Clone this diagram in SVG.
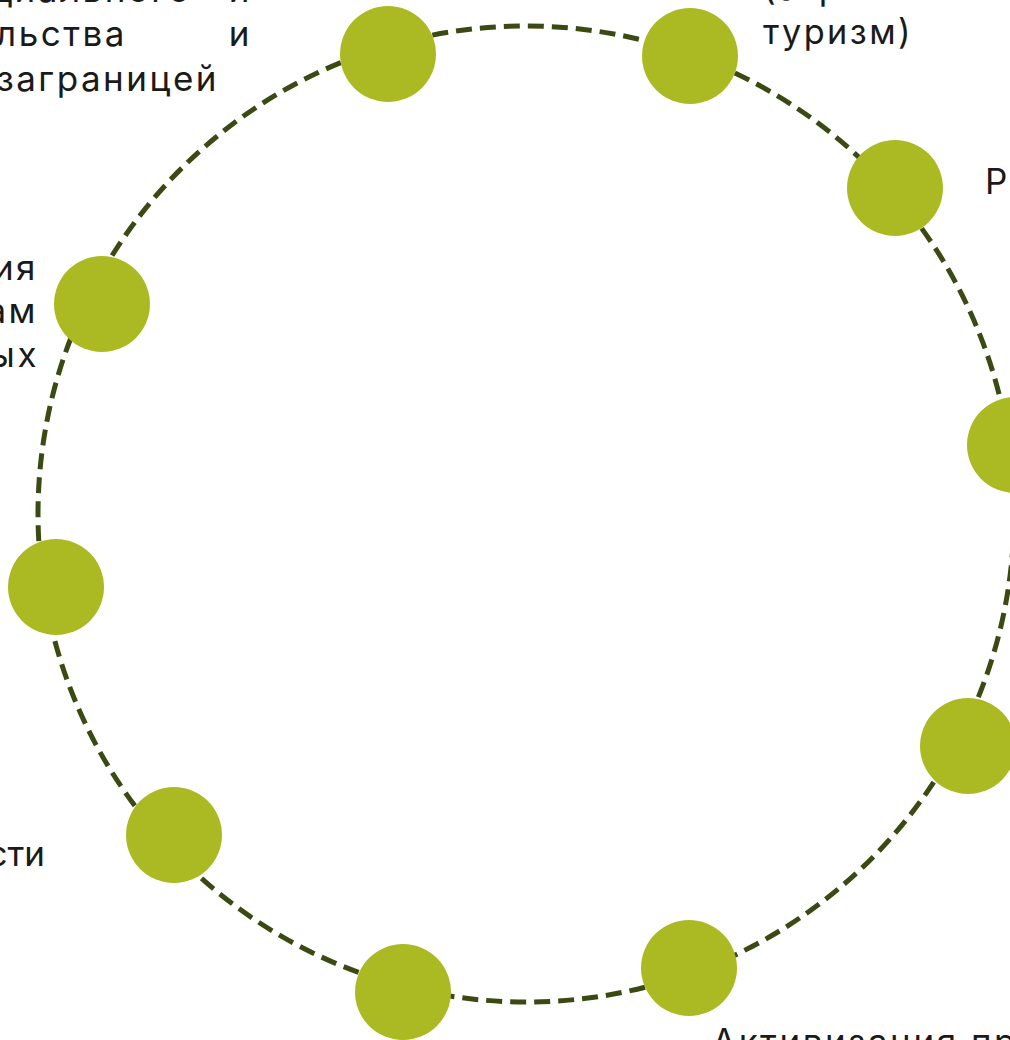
<svg xmlns="http://www.w3.org/2000/svg" width="1010" height="1040" viewBox="0 0 1010 1040">
  <style>
    .dot { fill: #ABBA22; }
    .link { fill: none; stroke: #3B4A12; stroke-width: 5; stroke-dasharray: 16 8; }
    .lbl { font-family: Inter, "DejaVu Sans", "Liberation Sans", sans-serif; font-size: 35px; fill: #1a1a1a; letter-spacing: 2.5px; }
    .end { text-anchor: end; }
  </style>
  <rect width="1010" height="1040" fill="#ffffff"/>
  <g id="connectors">
    <path class="link" d="M385.8 46.6 A488 488 0 0 1 690.5 54.6"/>
    <path class="link" d="M690.5 54.6 A488 488 0 0 1 891.7 190.9"/>
    <path class="link" d="M891.7 190.9 A488 488 0 0 1 1009.2 445.8"/>
    <path class="link" d="M1009.2 445.8 A488 488 0 0 1 958.1 740.8"/>
    <path class="link" d="M958.1 740.8 A488 488 0 0 1 690.9 973.3"/>
    <path class="link" d="M690.9 973.3 A488 488 0 0 1 404.4 986.6"/>
    <path class="link" d="M404.4 986.6 A488 488 0 0 1 165.4 842.8"/>
    <path class="link" d="M165.4 842.8 A488 488 0 0 1 43.8 588.9"/>
    <path class="link" d="M43.8 588.9 A488 488 0 0 1 88.7 297.4"/>
    <path class="link" d="M88.7 297.4 A488 488 0 0 1 385.8 46.6"/>
  </g>
  <g id="node-1">
    <circle class="dot" cx="388" cy="54" r="48"/>
    <text class="lbl end" x="192" y="2">социального</text>
    <text class="lbl end" x="252" y="2">и</text>
    <text class="lbl end" x="127" y="46">предпринимательства</text>
    <text class="lbl end" x="252" y="46">и</text>
    <text class="lbl end" x="-12" y="91">с</text>
    <text class="lbl end" x="219" y="91">заграницей</text>
  </g>
  <g id="node-2">
    <circle class="dot" cx="690" cy="56" r="48"/>
    <text class="lbl" x="763" y="0">(агро-   и   эко-</text>
    <text class="lbl" x="763" y="44" textLength="150" lengthAdjust="spacingAndGlyphs">туризм)</text>
  </g>
  <g id="node-3">
    <circle class="dot" cx="895" cy="188" r="48"/>
    <text class="lbl" x="985" y="194">Развитие</text>
  </g>
  <g id="node-4">
    <circle class="dot" cx="1015" cy="445" r="48"/>
  </g>
  <g id="node-5">
    <circle class="dot" cx="968" cy="746" r="48"/>
  </g>
  <g id="node-6">
    <circle class="dot" cx="689" cy="968" r="48"/>
    <text class="lbl" x="712" y="1054">Активизация пропаганды</text>
  </g>
  <g id="node-7">
    <circle class="dot" cx="403" cy="992" r="48"/>
  </g>
  <g id="node-8">
    <circle class="dot" cx="174" cy="835" r="48"/>
    <text class="lbl end" x="45" y="866" style="letter-spacing:0">деятельности</text>
  </g>
  <g id="node-9">
    <circle class="dot" cx="56" cy="587" r="48"/>
  </g>
  <g id="node-10">
    <circle class="dot" cx="102" cy="304" r="48"/>
    <text class="lbl end" x="38" y="280">Популяризация</text>
    <text class="lbl end" x="38" y="323">программам</text>
    <text class="lbl end" x="39" y="367">национальных</text>
  </g>
</svg>
